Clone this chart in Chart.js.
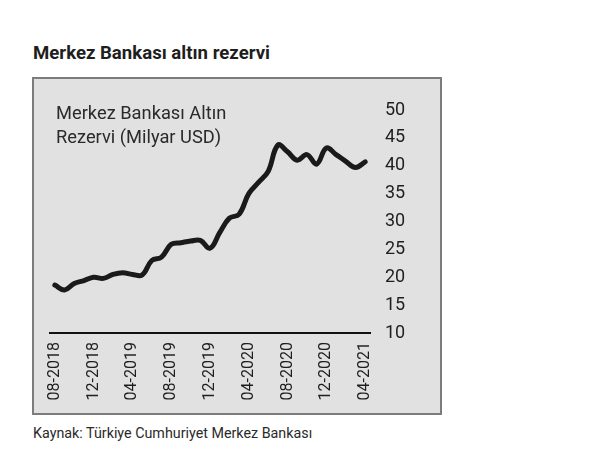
<!DOCTYPE html>
<html>
<head>
<meta charset="utf-8">
<script src="https://cdn.jsdelivr.net/npm/chart.js@4"></script>
<style>
  html, body { margin: 0; padding: 0; background: #ffffff; }
  body { width: 616px; height: 463px; position: relative; overflow: hidden; font-family: Roboto, "Noto Sans", sans-serif; }
  #title { position: absolute; left: 33px; top: 42px; font-size: 18.6px; font-weight: 700; color: #1e1e1e; white-space: nowrap; }
  #box { position: absolute; left: 32px; top: 77px; width: 406px; height: 334px; background: #e1e1e1; border: 2px solid #7c7c7c; }
  #chartWrap { position: absolute; left: 0; top: 0; width: 406px; height: 334px; }
  #note { position: absolute; left: 22px; top: 22px; font-size: 18.3px; line-height: 23.5px; color: #2a2a2a; white-space: nowrap; }
  #source { position: absolute; left: 33px; top: 425px; font-size: 14.3px; color: #2a2a2a; white-space: nowrap; }
</style>
</head>
<body>
<div id="title">Merkez Bankası altın rezervi</div>
<div id="box">
  <div id="chartWrap"><canvas id="c" width="406" height="334"></canvas></div>
  <div id="note">Merkez Bankası Altın<br>Rezervi (Milyar USD)</div>
</div>
<div id="source">Kaynak: Türkiye Cumhuriyet Merkez Bankası</div>
<script>
// Months (Aug 2018 - Apr 2021)
const months = [
  "08-2018","09-2018","10-2018","11-2018","12-2018",
  "01-2019","02-2019","03-2019","04-2019","05-2019","06-2019","07-2019","08-2019","09-2019","10-2019","11-2019","12-2019",
  "01-2020","02-2020","03-2020","04-2020","05-2020","06-2020","07-2020","08-2020","09-2020","10-2020","11-2020","12-2020",
  "01-2021","02-2021","03-2021","04-2021"
];
// Gold reserve, billion USD
const goldReserve = [
  18.6, 17.7, 18.9, 19.4, 20.0,
  19.8, 20.5, 20.8, 20.5, 20.4, 23.0, 23.6, 25.9, 26.2, 26.5, 26.6, 25.2,
  28.0, 30.6, 31.3, 35.0, 37.0, 39.0, 43.7, 42.5, 41.0, 42.0, 40.3, 43.2,
  42.0, 40.8, 39.7, 40.7
];
const shownTicks = ["08-2018","12-2018","04-2019","08-2019","12-2019","04-2020","08-2020","12-2020","04-2021"];
const yTicks = [10, 15, 20, 25, 30, 35, 40, 45, 50];

new Chart(document.getElementById('c'), {
  type: 'line',
  data: {
    labels: months,
    datasets: [{
      data: goldReserve,
      borderColor: '#1a1a1a',
      borderWidth: 5,
      pointRadius: 0,
      tension: 0.4,
      fill: false,
      borderCapStyle: 'round',
      borderJoinStyle: 'round'
    }]
  },
  options: {
    responsive: false,
    animation: false,
    layout: { padding: { left: 16, right: 0, top: 31, bottom: 0 } },
    plugins: { legend: { display: false }, tooltip: { enabled: false } },
    scales: {
      x: {
        offset: true,
        grid: { display: false, drawTicks: false },
        border: { display: true, color: '#111111', width: 2 },
        ticks: {
          autoSkip: false,
          maxRotation: 90,
          minRotation: 90,
          padding: 9,
          color: '#1e1e1e',
          font: { family: 'Roboto', size: 16 },
          callback: function(v, i) { const l = months[i]; return shownTicks.includes(l) ? l : ''; }
        },
        afterFit: function(s) { s.height = 80; }
      },
      y: {
        position: 'right',
        min: 10,
        max: 50,
        afterBuildTicks: function(s) { s.ticks = yTicks.map(v => ({ value: v })); },
        grid: { display: false, drawTicks: false },
        border: { display: false },
        ticks: {
          padding: 15,
          color: '#1e1e1e',
          font: { family: 'Roboto', size: 18 }
        },
        afterFit: function(s) { s.width = 70; }
      }
    }
  }
});
</script>
</body>
</html>
